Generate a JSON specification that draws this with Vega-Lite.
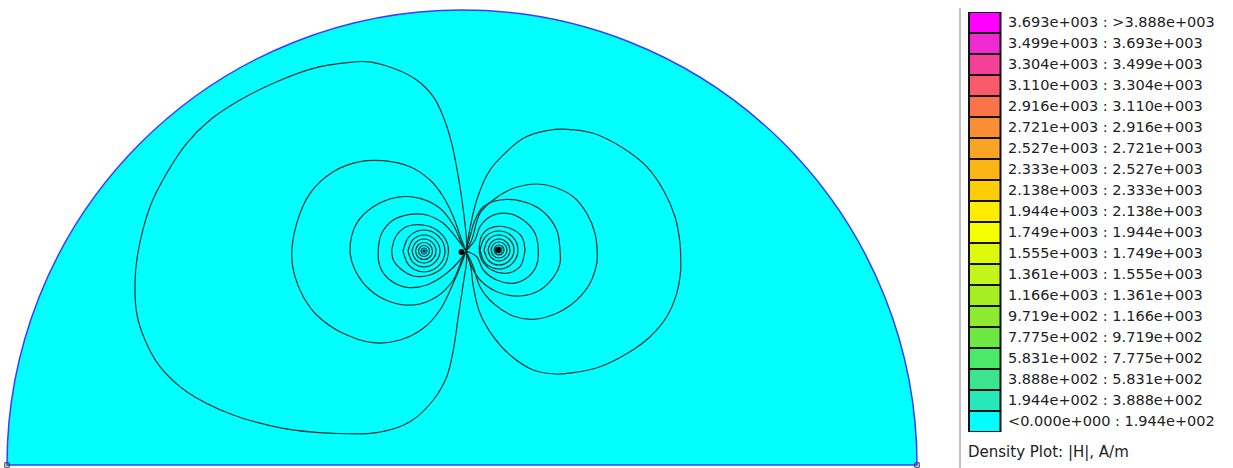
{
"$schema": "https://vega.github.io/schema/vega-lite/v6.json",
"width": 1233, "height": 468, "padding": 0, "autosize": {"type": "none"},
"background": "white",
"config": {"view": {"stroke": null}},
"datasets": {
"contours": [
{"c":"L1","x":4,"y":214},{"c":"L1","x":4.7,"y":221.7},{"c":"L1","x":1.3,"y":255},{"c":"L1","x":-3.7,"y":288.3},{"c":"L1","x":-10.3,"y":321.7},{"c":"L1","x":-18.7,"y":348.3},{"c":"L1","x":-28.7,"y":368.3},{"c":"L1","x":-45.3,"y":385},{"c":"L1","x":-68.7,"y":396.7},{"c":"L1","x":-95.3,"y":403.3},{"c":"L1","x":-115.3,"y":402.3},{"c":"L1","x":-148.7,"y":396.7},{"c":"L1","x":-185.3,"y":383.3},{"c":"L1","x":-222,"y":365},{"c":"L1","x":-252,"y":345},{"c":"L1","x":-275.3,"y":321.7},{"c":"L1","x":-295.3,"y":291.7},{"c":"L1","x":-312,"y":258.3},{"c":"L1","x":-324.5,"y":210},{"c":"L1","x":-327,"y":181.7},{"c":"L1","x":-325.3,"y":151.7},{"c":"L1","x":-317,"y":125},{"c":"L1","x":-302,"y":98.3},{"c":"L1","x":-275.3,"y":73.3},{"c":"L1","x":-228.7,"y":50},{"c":"L1","x":-178.7,"y":36.7},{"c":"L1","x":-128.7,"y":31.7},{"c":"L1","x":-85.3,"y":32.3},{"c":"L1","x":-52,"y":43.3},{"c":"L1","x":-28.7,"y":65},{"c":"L1","x":-15.3,"y":88.3},{"c":"L1","x":-8.7,"y":115},{"c":"L1","x":-3.7,"y":148.3},{"c":"L1","x":1.3,"y":181.7},{"c":"L1","x":4.7,"y":205},{"c":"L1","x":4,"y":214},
{"c":"L2","x":4,"y":214},{"c":"L2","x":-0.3,"y":225},{"c":"L2","x":-8.7,"y":248.3},{"c":"L2","x":-18.7,"y":268.3},{"c":"L2","x":-32,"y":285},{"c":"L2","x":-52,"y":298.3},{"c":"L2","x":-78.7,"y":304.3},{"c":"L2","x":-102,"y":303.3},{"c":"L2","x":-128.7,"y":293.3},{"c":"L2","x":-152,"y":271.7},{"c":"L2","x":-165.3,"y":241.7},{"c":"L2","x":-170.3,"y":210},{"c":"L2","x":-167,"y":188.3},{"c":"L2","x":-158.7,"y":168.3},{"c":"L2","x":-145.3,"y":150},{"c":"L2","x":-122,"y":133.3},{"c":"L2","x":-88.7,"y":122.3},{"c":"L2","x":-62,"y":125},{"c":"L2","x":-38.7,"y":136.7},{"c":"L2","x":-22,"y":155},{"c":"L2","x":-10.3,"y":178.3},{"c":"L2","x":-0.3,"y":201.7},{"c":"L2","x":4,"y":214},
{"c":"L3","x":4,"y":214},{"c":"L3","x":-0.3,"y":221.7},{"c":"L3","x":-8.7,"y":240},{"c":"L3","x":-22,"y":256.7},{"c":"L3","x":-42,"y":266.7},{"c":"L3","x":-65.3,"y":267.7},{"c":"L3","x":-88.7,"y":258.3},{"c":"L3","x":-105.3,"y":241.7},{"c":"L3","x":-112,"y":215},{"c":"L3","x":-107,"y":195},{"c":"L3","x":-92,"y":175},{"c":"L3","x":-72,"y":163.3},{"c":"L3","x":-48.7,"y":160},{"c":"L3","x":-25.3,"y":168.3},{"c":"L3","x":-8.7,"y":185},{"c":"L3","x":-0.3,"y":205},{"c":"L3","x":4,"y":214},
{"c":"L4","x":4,"y":214},{"c":"L4","x":-5.3,"y":226.7},{"c":"L4","x":-18.7,"y":241.7},{"c":"L4","x":-35.3,"y":250},{"c":"L4","x":-52,"y":250.7},{"c":"L4","x":-68.7,"y":245},{"c":"L4","x":-80.3,"y":231.7},{"c":"L4","x":-83.7,"y":215},{"c":"L4","x":-82,"y":198.3},{"c":"L4","x":-72,"y":185},{"c":"L4","x":-55.3,"y":177.7},{"c":"L4","x":-35.3,"y":180},{"c":"L4","x":-15.3,"y":191.7},{"c":"L4","x":-2,"y":205},{"c":"L4","x":4,"y":214},
{"c":"L5","x":-70.3,"y":215},{"c":"L5","x":-65.3,"y":230},{"c":"L5","x":-53.7,"y":239},{"c":"L5","x":-38.7,"y":240},{"c":"L5","x":-25.3,"y":235},{"c":"L5","x":-15.3,"y":223.3},{"c":"L5","x":-13.7,"y":211.7},{"c":"L5","x":-18.7,"y":198.3},{"c":"L5","x":-32,"y":190},{"c":"L5","x":-48.7,"y":189},{"c":"L5","x":-62,"y":196.7},{"c":"L5","x":-68.7,"y":205},{"c":"L5","x":-70.3,"y":215},
{"c":"LA","x":-59,"y":214},{"c":"LA","x":-52.7,"y":228.7},{"c":"LA","x":-38,"y":235},{"c":"LA","x":-23.3,"y":228.7},{"c":"LA","x":-17,"y":214},{"c":"LA","x":-23.3,"y":199.3},{"c":"LA","x":-38,"y":193},{"c":"LA","x":-52.7,"y":199.3},{"c":"LA","x":-59,"y":214},
{"c":"LB","x":-54,"y":214},{"c":"LB","x":-49.2,"y":225.2},{"c":"LB","x":-38,"y":230},{"c":"LB","x":-26.8,"y":225.2},{"c":"LB","x":-22,"y":214},{"c":"LB","x":-26.8,"y":202.8},{"c":"LB","x":-38,"y":198},{"c":"LB","x":-49.2,"y":202.8},{"c":"LB","x":-54,"y":214},
{"c":"LC","x":-50,"y":214},{"c":"LC","x":-46.4,"y":222.4},{"c":"LC","x":-38,"y":226},{"c":"LC","x":-29.6,"y":222.4},{"c":"LC","x":-26,"y":214},{"c":"LC","x":-29.6,"y":205.6},{"c":"LC","x":-38,"y":202},{"c":"LC","x":-46.4,"y":205.6},{"c":"LC","x":-50,"y":214},
{"c":"LD","x":-46.5,"y":214},{"c":"LD","x":-44,"y":220},{"c":"LD","x":-38,"y":222.5},{"c":"LD","x":-32,"y":220},{"c":"LD","x":-29.5,"y":214},{"c":"LD","x":-32,"y":208},{"c":"LD","x":-38,"y":205.5},{"c":"LD","x":-44,"y":208},{"c":"LD","x":-46.5,"y":214},
{"c":"LE","x":-43.5,"y":214},{"c":"LE","x":-41.9,"y":217.9},{"c":"LE","x":-38,"y":219.5},{"c":"LE","x":-34.1,"y":217.9},{"c":"LE","x":-32.5,"y":214},{"c":"LE","x":-34.1,"y":210.1},{"c":"LE","x":-38,"y":208.5},{"c":"LE","x":-41.9,"y":210.1},{"c":"LE","x":-43.5,"y":214},
{"c":"LF","x":-41,"y":214},{"c":"LF","x":-40.1,"y":216.1},{"c":"LF","x":-38,"y":217},{"c":"LF","x":-35.9,"y":216.1},{"c":"LF","x":-35,"y":214},{"c":"LF","x":-35.9,"y":211.9},{"c":"LF","x":-38,"y":211},{"c":"LF","x":-40.1,"y":211.9},{"c":"LF","x":-41,"y":214},
{"c":"R1","x":4,"y":214},{"c":"R1","x":14.7,"y":265},{"c":"R1","x":28,"y":295},{"c":"R1","x":44.7,"y":313.3},{"c":"R1","x":61.3,"y":326.7},{"c":"R1","x":84.7,"y":334.3},{"c":"R1","x":104.7,"y":335.7},{"c":"R1","x":131.3,"y":331.7},{"c":"R1","x":161.3,"y":316.7},{"c":"R1","x":184.7,"y":298.3},{"c":"R1","x":201.3,"y":275},{"c":"R1","x":213,"y":248.3},{"c":"R1","x":218,"y":221.7},{"c":"R1","x":218.7,"y":205},{"c":"R1","x":218.7,"y":195},{"c":"R1","x":214.7,"y":171.7},{"c":"R1","x":204.7,"y":148.3},{"c":"R1","x":188,"y":128.3},{"c":"R1","x":168,"y":113.3},{"c":"R1","x":138,"y":98.3},{"c":"R1","x":111.3,"y":92.3},{"c":"R1","x":94.7,"y":91},{"c":"R1","x":71.3,"y":95},{"c":"R1","x":48,"y":110},{"c":"R1","x":31.3,"y":128.3},{"c":"R1","x":18,"y":151.7},{"c":"R1","x":11.3,"y":178.3},{"c":"R1","x":8.7,"y":198.3},{"c":"R1","x":4,"y":214},
{"c":"R2","x":4,"y":214},{"c":"R2","x":9.7,"y":225},{"c":"R2","x":18,"y":251.7},{"c":"R2","x":31.3,"y":265},{"c":"R2","x":51.3,"y":276.7},{"c":"R2","x":74.7,"y":281},{"c":"R2","x":91.3,"y":278.3},{"c":"R2","x":111.3,"y":268.3},{"c":"R2","x":124.7,"y":251.7},{"c":"R2","x":133,"y":231.7},{"c":"R2","x":135.3,"y":210},{"c":"R2","x":134.7,"y":201.7},{"c":"R2","x":128,"y":181.7},{"c":"R2","x":114.7,"y":165},{"c":"R2","x":94.7,"y":151.7},{"c":"R2","x":71.3,"y":145.7},{"c":"R2","x":51.3,"y":149},{"c":"R2","x":31.3,"y":161.7},{"c":"R2","x":18,"y":178.3},{"c":"R2","x":11.3,"y":198.3},{"c":"R2","x":4,"y":214},
{"c":"R3","x":4,"y":214},{"c":"R3","x":8,"y":228.3},{"c":"R3","x":13,"y":245},{"c":"R3","x":21.3,"y":258.3},{"c":"R3","x":38,"y":265},{"c":"R3","x":61.3,"y":263.3},{"c":"R3","x":81.3,"y":253.3},{"c":"R3","x":94.7,"y":235},{"c":"R3","x":98,"y":215},{"c":"R3","x":98,"y":201.7},{"c":"R3","x":93,"y":190},{"c":"R3","x":78,"y":175},{"c":"R3","x":58,"y":169},{"c":"R3","x":34.7,"y":173.3},{"c":"R3","x":18,"y":185},{"c":"R3","x":9.7,"y":198.3},{"c":"R3","x":4,"y":214},
{"c":"R4","x":4,"y":214},{"c":"R4","x":13,"y":225},{"c":"R4","x":18,"y":238.3},{"c":"R4","x":28,"y":248.3},{"c":"R4","x":44.7,"y":251.7},{"c":"R4","x":61.3,"y":245},{"c":"R4","x":73,"y":231.7},{"c":"R4","x":76.3,"y":215},{"c":"R4","x":74.7,"y":200},{"c":"R4","x":66.3,"y":188.3},{"c":"R4","x":51.3,"y":181.7},{"c":"R4","x":34.7,"y":185},{"c":"R4","x":21.3,"y":195},{"c":"R4","x":14.7,"y":208.3},{"c":"R4","x":4,"y":214},
{"c":"R5","x":63,"y":215},{"c":"R5","x":59.7,"y":228.3},{"c":"R5","x":48,"y":236.7},{"c":"R5","x":33,"y":238.3},{"c":"R5","x":21.3,"y":231.7},{"c":"R5","x":17.3,"y":218.3},{"c":"R5","x":19.7,"y":205},{"c":"R5","x":29.7,"y":195},{"c":"R5","x":44.7,"y":191.7},{"c":"R5","x":58,"y":198.3},{"c":"R5","x":63,"y":215},
{"c":"RA","x":18,"y":215},{"c":"RA","x":23.6,"y":228.4},{"c":"RA","x":37,"y":234},{"c":"RA","x":50.4,"y":228.4},{"c":"RA","x":56,"y":215},{"c":"RA","x":50.4,"y":201.6},{"c":"RA","x":37,"y":196},{"c":"RA","x":23.6,"y":201.6},{"c":"RA","x":18,"y":215},
{"c":"RB","x":22,"y":215},{"c":"RB","x":26.5,"y":225.5},{"c":"RB","x":37,"y":230},{"c":"RB","x":47.5,"y":225.5},{"c":"RB","x":52,"y":215},{"c":"RB","x":47.5,"y":204.5},{"c":"RB","x":37,"y":200},{"c":"RB","x":26.5,"y":204.5},{"c":"RB","x":22,"y":215},
{"c":"RC","x":26,"y":215},{"c":"RC","x":29.3,"y":222.7},{"c":"RC","x":37,"y":226},{"c":"RC","x":44.7,"y":222.7},{"c":"RC","x":48,"y":215},{"c":"RC","x":44.7,"y":207.3},{"c":"RC","x":37,"y":204},{"c":"RC","x":29.3,"y":207.3},{"c":"RC","x":26,"y":215},
{"c":"RD","x":29,"y":215},{"c":"RD","x":31.4,"y":220.6},{"c":"RD","x":37,"y":223},{"c":"RD","x":42.6,"y":220.6},{"c":"RD","x":45,"y":215},{"c":"RD","x":42.6,"y":209.4},{"c":"RD","x":37,"y":207},{"c":"RD","x":31.4,"y":209.4},{"c":"RD","x":29,"y":215},
{"c":"RE","x":32,"y":215},{"c":"RE","x":33.5,"y":218.5},{"c":"RE","x":37,"y":220},{"c":"RE","x":40.5,"y":218.5},{"c":"RE","x":42,"y":215},{"c":"RE","x":40.5,"y":211.5},{"c":"RE","x":37,"y":210},{"c":"RE","x":33.5,"y":211.5},{"c":"RE","x":32,"y":215},
{"c":"RF","x":34,"y":215},{"c":"RF","x":34.9,"y":217.1},{"c":"RF","x":37,"y":218},{"c":"RF","x":39.1,"y":217.1},{"c":"RF","x":40,"y":215},{"c":"RF","x":39.1,"y":212.9},{"c":"RF","x":37,"y":212},{"c":"RF","x":34.9,"y":212.9},{"c":"RF","x":34,"y":215}
]
},
"layer": [
{
"data": {"values": [{"region": "<0.000e+000 : 1.944e+002", "cx": 0, "cy": 0}]},
"mark": {"type": "arc", "theta": -1.5708, "theta2": 1.5708, "radius": 455},
"encoding": {
"x": {"field": "cx", "type": "quantitative", "scale": {"domain": [-462, 771], "nice": false, "zero": false}, "axis": null},
"y": {"field": "cy", "type": "quantitative", "scale": {"domain": [-3, 465], "nice": false, "zero": false}, "axis": null},
"color": {"field": "region", "type": "nominal",
"scale": {"domain": ["3.693e+003 : >3.888e+003","3.499e+003 : 3.693e+003","3.304e+003 : 3.499e+003","3.110e+003 : 3.304e+003","2.916e+003 : 3.110e+003","2.721e+003 : 2.916e+003","2.527e+003 : 2.721e+003","2.333e+003 : 2.527e+003","2.138e+003 : 2.333e+003","1.944e+003 : 2.138e+003","1.749e+003 : 1.944e+003","1.555e+003 : 1.749e+003","1.361e+003 : 1.555e+003","1.166e+003 : 1.361e+003","9.719e+002 : 1.166e+003","7.775e+002 : 9.719e+002","5.831e+002 : 7.775e+002","3.888e+002 : 5.831e+002","1.944e+002 : 3.888e+002","<0.000e+000 : 1.944e+002"],
"range": ["#ff00ff","#ee2ad0","#f5409a","#fa5a6a","#fa7448","#fa8e34","#fba423","#fdb515","#ffcc08","#ffec00","#f5ff00","#ddf90c","#c4f51a","#a6ee24","#8dea2e","#6ee743","#4ce86a","#3be58e","#27e8ba","#00ffff"]},
"legend": {"orient": "none", "legendX": 968, "legendY": 12, "padding": 0, "rowPadding": 0, "columns": 1, "clipHeight": 21,
"title": "Density Plot: |H|, A/m", "titleOrient": "bottom", "titleAnchor": "start", "titleFont": "DejaVu Sans", "titleFontSize": 15, "titleFontWeight": "normal", "titleColor": "#222222", "titlePadding": 13,
"labelFont": "DejaVu Sans", "labelFontSize": 14.5, "labelColor": "#222222", "labelOffset": 22, "labelLimit": 400,
"symbolType": "M-1,-1.3125H2.9375V1.3125H-1Z", "symbolSize": 256, "symbolStrokeColor": "#111111", "symbolStrokeWidth": 2, "symbolOpacity": 1,
"encode": {"symbols": {"update": {"stroke": {"value": "#111111"}, "strokeWidth": {"value": 2}, "opacity": {"value": 1}}}}}
}
}
},
{
"data": {"values": [{"cx": 0, "cy": 0}]},
"mark": {"type": "arc", "theta": -1.5708, "theta2": 1.5708, "radius": 455, "fill": null, "filled": false, "stroke": "#3b3bff", "strokeWidth": 1.5},
"encoding": {
"x": {"field": "cx", "type": "quantitative"},
"y": {"field": "cy", "type": "quantitative"}
}
},
{
"data": {"name": "contours"},
"mark": {"type": "line", "interpolate": "catmull-rom", "stroke": "#143232", "strokeWidth": 1.2},
"encoding": {
"x": {"field": "x", "type": "quantitative"},
"y": {"field": "y", "type": "quantitative"},
"detail": {"field": "c", "type": "nominal"},
"order": {"value": null}
}
},
{
"data": {"values": [{"x": 498, "y": 457, "y2": -3}]},
"mark": {"type": "rule", "color": "#888888", "strokeWidth": 1},
"encoding": {"x": {"field": "x", "type": "quantitative"}, "y": {"field": "y", "type": "quantitative"}, "y2": {"field": "y2"}}
},
{
"data": {"values": [{"x": -0.5, "y": 213}, {"x": 36, "y": 215}]},
"mark": {"type": "point", "shape": "circle", "filled": true, "color": "#000000", "size": 35, "opacity": 1},
"encoding": {"x": {"field": "x", "type": "quantitative"}, "y": {"field": "y", "type": "quantitative"}}
},
{
"data": {"values": [{"x": -38, "y": 214}]},
"mark": {"type": "point", "shape": "circle", "filled": true, "color": "#1010aa", "size": 12, "opacity": 1},
"encoding": {"x": {"field": "x", "type": "quantitative"}, "y": {"field": "y", "type": "quantitative"}}
},
{
"data": {"values": [{"x": -455, "y": 0}, {"x": 455, "y": 0}]},
"mark": {"type": "point", "shape": "square", "filled": false, "stroke": "#333333", "strokeWidth": 1, "size": 20, "opacity": 1},
"encoding": {"x": {"field": "x", "type": "quantitative"}, "y": {"field": "y", "type": "quantitative"}}
}
]
}
